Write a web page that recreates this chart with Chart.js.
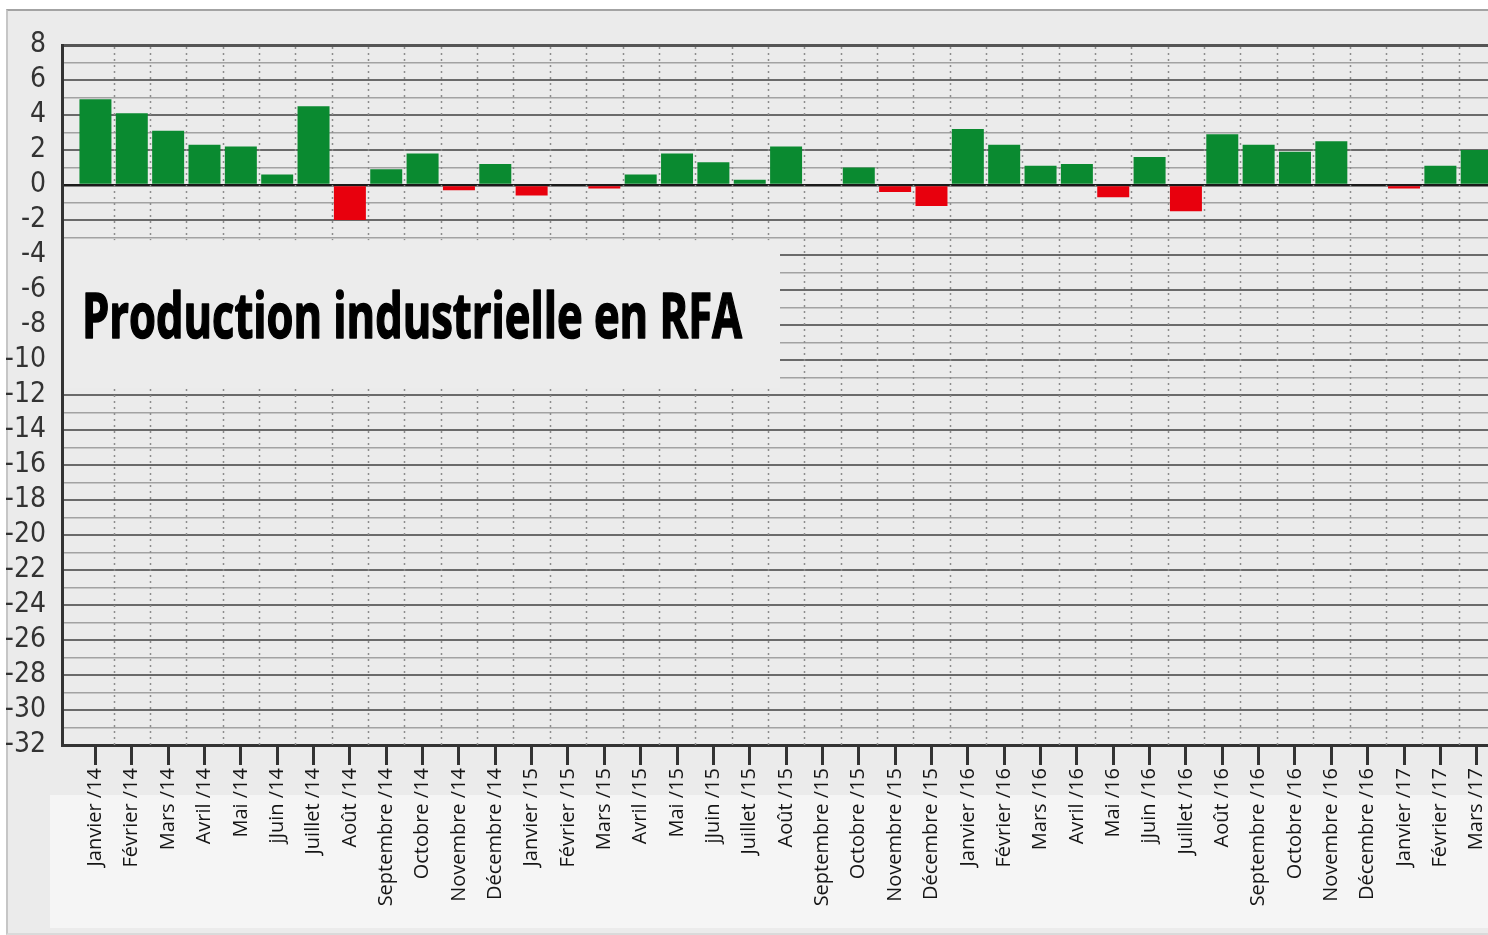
<!DOCTYPE html>
<html lang="fr">
<head>
<meta charset="utf-8">
<script src="https://cdn.jsdelivr.net/npm/chart.js@4"></script>
<style>
html, body { margin: 0; padding: 0; background: #fff; overflow: hidden; }
#cadre { position: absolute; left: 6px; top: 9px; width: 1490px; height: 922px; background: #ebebeb;
         border-top: 2px solid #a3a3a3; border-left: 2px solid #c6c6c6; border-bottom: 2px solid #dadada; }
#boite { position: absolute; left: 0; top: 0; width: 1488px; height: 935px; }
</style>
</head>
<body>
<div id="cadre"></div>
<div id="boite"><canvas id="grafik"></canvas></div>
<script>
// mois affichés sous l'axe
const categories = [
    "Janvier /14", "Février /14", "Mars /14", "Avril /14", "Mai /14", "jJuin /14",
    "Juillet /14", "Août /14", "Septembre /14", "Octobre /14", "Novembre /14", "Décembre /14",
    "Janvier /15", "Février /15", "Mars /15", "Avril /15", "Mai /15", "jJuin /15",
    "Juillet /15", "Août /15", "Septembre /15", "Octobre /15", "Novembre /15", "Décembre /15",
    "Janvier /16", "Février /16", "Mars /16", "Avril /16", "Mai /16", "jJuin /16",
    "Juillet /16", "Août /16", "Septembre /16", "Octobre /16", "Novembre /16", "Décembre /16",
    "Janvier /17", "Février /17", "Mars /17"
];

// variation en %
const valeurs2014 = [4.9, 4.1, 3.1, 2.3, 2.2, 0.6, 4.5, -2.0, 0.9, 1.8, -0.3, 1.2];
const valeurs2015 = [-0.6, 0, -0.2, 0.6, 1.8, 1.3, 0.3, 2.2, 0, 1.0, -0.4, -1.2];
const valeurs2016 = [3.2, 2.3, 1.1, 1.2, -0.7, 1.6, -1.5, 2.9, 2.3, 1.9, 2.5, 0];
const valeurs2017 = [-0.2, 1.1, 2.0];
const valeurs = [...valeurs2014, ...valeurs2015, ...valeurs2016, ...valeurs2017];

const titre = "Production industrielle en RFA";
const vert = "#0a8a30", rouge = "#e8000d";

// fond clair sous les mois + encadré du titre
const fondEtTitre = {
    id: "fondEtTitre",
    beforeDraw(c) {
        const ctx = c.ctx;
        ctx.save();
        ctx.fillStyle = "#f5f5f5";
        ctx.fillRect(50, 795, c.width - 50, 133);
        ctx.restore();
    },
    beforeDatasetsDraw(c) {
        const { ctx, chartArea: a, scales: { x, y } } = c;
        ctx.save();
        // pointillés entre les barres
        ctx.strokeStyle = "#8c8c8c";
        ctx.lineWidth = 1.5;
        ctx.setLineDash([2, 4]);
        for (let i = 0; i < categories.length; i++) {
            const px = Math.round(x.getPixelForValue(i + 0.5)) + 0.5;
            ctx.beginPath(); ctx.moveTo(px, a.top + 2); ctx.lineTo(px, a.bottom); ctx.stroke();
        }
        ctx.setLineDash([]);

        // encadré du titre
        const haut = y.getPixelForValue(-3.15), bas = y.getPixelForValue(-11.6);
        ctx.fillStyle = "#ececec";
        ctx.fillRect(a.left + 2, haut, 780 - a.left - 2, bas - haut);

        ctx.font = "bold 62px 'Open Sans'";
        const larg = ctx.measureText(titre).width;
        ctx.translate(82, 338);
        ctx.scale(660 / larg, 1);
        ctx.fillStyle = "#000";
        ctx.strokeStyle = "#000";
        ctx.lineWidth = 1.6;
        ctx.lineJoin = "round";
        ctx.fillText(titre, 0, 0);
        ctx.strokeText(titre, 0, 0);
        ctx.restore();
    }
};

const chart = new Chart(grafik, {
    type: "bar",
    data: {
        datasets: [{
            data: valeurs.map((v, i) => ({ x: i, y: v })),
            backgroundColor: valeurs.map(v => v < 0 ? rouge : vert),
            barPercentage: 0.88, categoryPercentage: 1
        }]
    },
    options: {
        responsive: true, maintainAspectRatio: false, animation: false,
        layout: { padding: { top: 45, left: 0, right: 0, bottom: 0 } },
        plugins: { legend: { display: false }, tooltip: { enabled: false } },
        scales: {
            x: {
                type: "linear", min: -0.92, max: 38.31, offset: false,
                afterBuildTicks(s) { s.ticks = categories.map((_, i) => ({ value: i })); },
                afterFit(s) { s.height = 190; s.paddingLeft = 0; s.paddingRight = 0; },
                grid: { offset: false, drawOnChartArea: false, drawTicks: true, tickLength: 20, tickColor: "#333", tickWidth: 3 },
                border: { display: true, color: "#333", width: 3 },
                ticks: {
                    autoSkip: false, maxRotation: 90, minRotation: 90, padding: 3, color: "#151515",
                    font: { family: "'Open Sans'", size: 20 },
                    callback: v => categories[v] ?? ""
                }
            },
            y: {
                min: -32, max: 8,
                afterFit(s) { s.width = 62; s.paddingTop = 0; s.paddingBottom = 0; },
                grid: {
                    drawTicks: false,
                    color: c => {
                        const v = c.tick.value;
                        if (v === 0) return "#1a1a1a";
                        if (v === 8) return "#555";
                        return v % 2 ? "#a2a2a2" : "#6a6a6a";
                    },
                    lineWidth: c => {
                        const v = c.tick.value;
                        if (v === 8) return 3;
                        if (v === 0) return 2.5;
                        return v % 2 ? 1.5 : 2;
                    }
                },
                border: { display: true, color: "#333", width: 3 },
                ticks: {
                    stepSize: 1, autoSkip: false, maxTicksLimit: 100, padding: 16, color: "#333",
                    font: { family: "'Liberation Sans Narrow', 'DejaVu Sans Condensed', 'Open Sans'", size: 28 },
                    callback: v => v % 2 ? "" : (v < 0 ? "-" + (-v) : String(v))
                }
            }
        }
    },
    plugins: [fondEtTitre]
});
</script>
</body>
</html>
